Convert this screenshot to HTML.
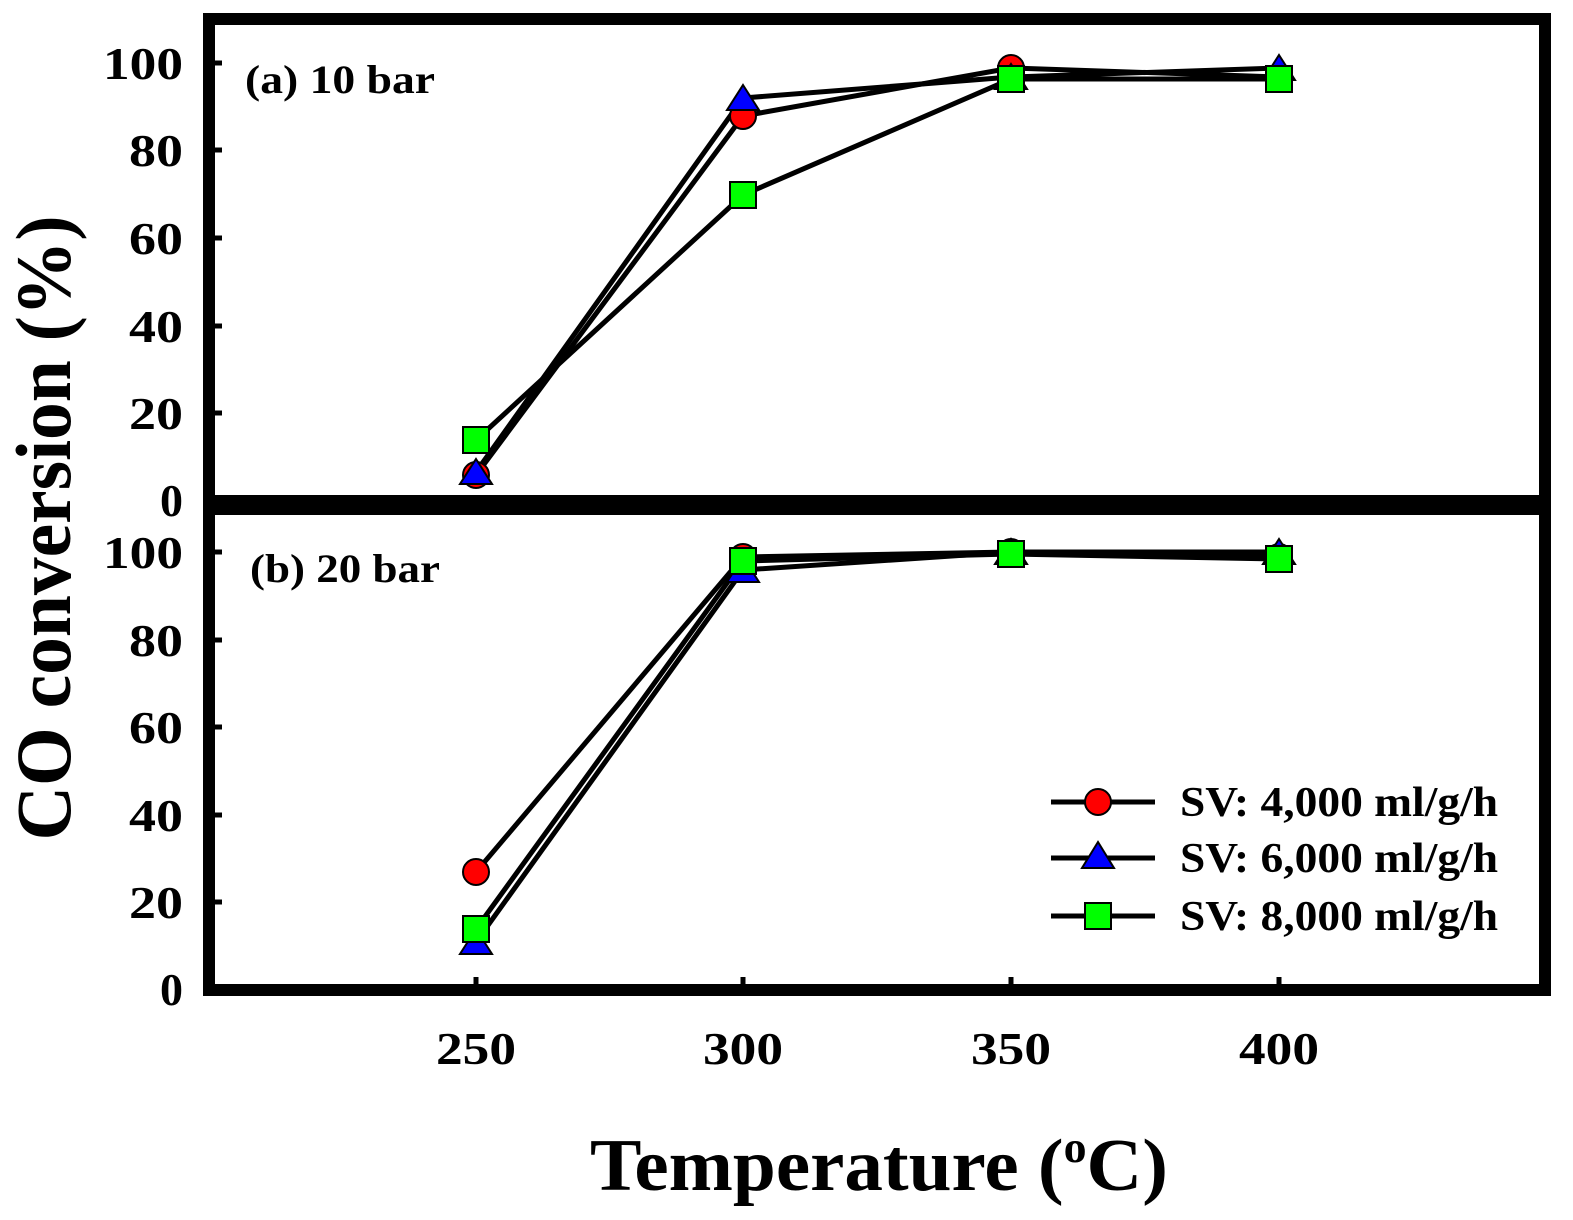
<!DOCTYPE html>
<html><head><style>body{margin:0;background:#fff}svg{display:block}</style></head><body>
<svg width="1573" height="1220" viewBox="0 0 1573 1220" xmlns="http://www.w3.org/2000/svg" font-family="Liberation Serif, serif" font-weight="bold">
<rect width="1573" height="1220" fill="#fff"/>
<g fill="none" stroke="#000" stroke-width="12">
<rect x="209" y="19" width="1336" height="482"/>
<rect x="209" y="509" width="1336" height="481"/>
</g>
<g stroke="#000" stroke-width="5">
<line x1="209" y1="63" x2="222" y2="63"/><line x1="209" y1="150" x2="222" y2="150"/><line x1="209" y1="238" x2="222" y2="238"/><line x1="209" y1="326" x2="222" y2="326"/><line x1="209" y1="413" x2="222" y2="413"/>
<line x1="209" y1="552" x2="222" y2="552"/><line x1="209" y1="640" x2="222" y2="640"/><line x1="209" y1="727" x2="222" y2="727"/><line x1="209" y1="815" x2="222" y2="815"/><line x1="209" y1="902" x2="222" y2="902"/>
<line x1="476" y1="990" x2="476" y2="977"/><line x1="743" y1="990" x2="743" y2="977"/><line x1="1011" y1="990" x2="1011" y2="977"/><line x1="1279" y1="990" x2="1279" y2="977"/>
</g>
<g font-size="46" text-anchor="end">
<text x="183" y="79" textLength="80" lengthAdjust="spacingAndGlyphs">100</text><text x="183" y="166" textLength="54" lengthAdjust="spacingAndGlyphs">80</text><text x="183" y="254" textLength="54" lengthAdjust="spacingAndGlyphs">60</text><text x="183" y="342" textLength="54" lengthAdjust="spacingAndGlyphs">40</text><text x="183" y="429" textLength="54" lengthAdjust="spacingAndGlyphs">20</text><text x="183" y="516">0</text>
<text x="183" y="568" textLength="80" lengthAdjust="spacingAndGlyphs">100</text><text x="183" y="656" textLength="54" lengthAdjust="spacingAndGlyphs">80</text><text x="183" y="743" textLength="54" lengthAdjust="spacingAndGlyphs">60</text><text x="183" y="831" textLength="54" lengthAdjust="spacingAndGlyphs">40</text><text x="183" y="918" textLength="54" lengthAdjust="spacingAndGlyphs">20</text><text x="183" y="1005">0</text>
</g>
<g font-size="46" text-anchor="middle">
<text x="476" y="1064" textLength="80" lengthAdjust="spacingAndGlyphs">250</text><text x="743" y="1064" textLength="80" lengthAdjust="spacingAndGlyphs">300</text><text x="1011" y="1064" textLength="80" lengthAdjust="spacingAndGlyphs">350</text><text x="1279" y="1064" textLength="80" lengthAdjust="spacingAndGlyphs">400</text>
</g>
<text x="590" y="1190" font-size="74" textLength="578" lengthAdjust="spacingAndGlyphs">Temperature (<tspan font-size="44" dy="-28">o</tspan><tspan dy="28">C)</tspan></text>
<text transform="translate(70,528) rotate(-90)" font-size="78" text-anchor="middle" textLength="625" lengthAdjust="spacingAndGlyphs">CO conversion (%)</text>
<text x="245" y="93" font-size="40" textLength="190" lengthAdjust="spacingAndGlyphs">(a) 10 bar</text>
<text x="250" y="582" font-size="40" textLength="190" lengthAdjust="spacingAndGlyphs">(b) 20 bar</text>
<g fill="none" stroke="#000" stroke-width="5">
<polyline points="476,475 743,116 1011,68 1279,77"/>
<polyline points="476,472 743,98 1011,77 1279,68"/>
<polyline points="476,440 743,195 1011,79 1279,79"/>
<polyline points="476,872 743,557 1011,552 1279,557"/>
<polyline points="476,942 743,570 1011,552 1279,552"/>
<polyline points="476,929 743,561 1011,554 1279,559"/>
<line x1="1051" y1="802" x2="1155" y2="802"/><line x1="1051" y1="858" x2="1155" y2="858"/><line x1="1051" y1="916" x2="1155" y2="916"/>
</g>
<g stroke="#000" stroke-width="2">
<g fill="#f00"><circle cx="476" cy="475" r="13"/><circle cx="743" cy="116" r="13"/><circle cx="1011" cy="68" r="13"/><circle cx="1279" cy="77" r="13"/>
<circle cx="476" cy="872" r="13"/><circle cx="743" cy="557" r="13"/><circle cx="1011" cy="552" r="13"/><circle cx="1279" cy="557" r="13"/><circle cx="1098" cy="802" r="13"/></g>
<g fill="#00f">
<polygon points="476,459 492,484 460,484"/><polygon points="743,85 759,110 727,110"/><polygon points="1011,64 1027,89 995,89"/><polygon points="1279,55 1295,80 1263,80"/>
<polygon points="476,929 492,954 460,954"/><polygon points="743,557 759,582 727,582"/><polygon points="1011,539 1027,564 995,564"/><polygon points="1279,539 1295,564 1263,564"/><polygon points="1098,842 1114,868 1082,868"/></g>
<g fill="#0f0">
<rect x="463" y="427" width="26" height="26"/><rect x="730" y="182" width="26" height="26"/><rect x="998" y="66" width="26" height="26"/><rect x="1266" y="66" width="26" height="26"/>
<rect x="463" y="916" width="26" height="26"/><rect x="730" y="548" width="26" height="26"/><rect x="998" y="541" width="26" height="26"/><rect x="1266" y="546" width="26" height="26"/><rect x="1085" y="903" width="26" height="26"/></g>
</g>
<g font-size="42">
<text x="1180" y="816" textLength="318" lengthAdjust="spacingAndGlyphs">SV: 4,000 ml/g/h</text>
<text x="1180" y="872" textLength="318" lengthAdjust="spacingAndGlyphs">SV: 6,000 ml/g/h</text>
<text x="1180" y="930" textLength="318" lengthAdjust="spacingAndGlyphs">SV: 8,000 ml/g/h</text>
</g>
</svg>
</body></html>
